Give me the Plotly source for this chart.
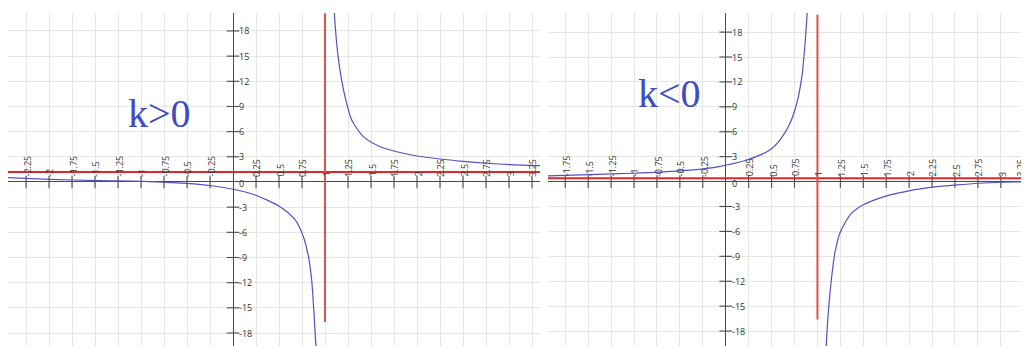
import plotly.graph_objects as go

# ---------------- data ----------------
# left panel (k>0)
left_neg_x = [-2.46, -1.99, -1.45, -0.975, -0.51, -0.21, 0.0, 0.24, 0.51, 0.674, 0.764, 0.82, 0.855, 0.88, 0.905]
left_neg_y = [0.52, 0.32, 0.16, 0.08, -0.16, -0.48, -0.87, -1.55, -2.94, -4.5, -6.5, -8.9, -11.7, -15.6, -20.3]
left_pos_x = [1.095, 1.127, 1.163, 1.217, 1.29, 1.417, 1.60, 1.78, 2.0, 2.25, 2.50, 2.76, 3.01, 3.35]
left_pos_y = [21.0, 16.5, 13.3, 10.2, 7.4, 5.4, 4.2, 3.6, 3.1, 2.74, 2.46, 2.23, 2.07, 1.95]
left_h_asym = 1.2
left_v_asym = 1.0
left_v_span = [20.1, -16.7]

# right panel (k<0)
right_neg_x = [-1.95, -1.48, -1.01, -0.50, -0.135, 0.0, 0.23, 0.48, 0.59, 0.70, 0.774, 0.83, 0.865, 0.892]
right_neg_y = [0.68, 0.84, 1.0, 1.29, 1.69, 1.97, 2.6, 3.8, 5.0, 7.0, 9.4, 12.6, 16.6, 21.0]
right_pos_x = [1.092, 1.12, 1.156, 1.19, 1.246, 1.356, 1.50, 1.756, 2.01, 2.26, 2.52, 2.77, 3.03, 3.32]
right_pos_y = [-20.5, -15.5, -11.4, -8.6, -6.2, -4.0, -2.8, -1.72, -1.08, -0.67, -0.40, -0.2, -0.08, 0.0]
right_h_asym = 0.4
right_v_asym = 1.0
right_v_span = [20.1, -16.6]

# tick labels
left_xticks = [-2.25, -2, -1.75, -1.5, -1.25, -1, -0.75, -0.5, -0.25,
               0.25, 0.5, 0.75, 1, 1.25, 1.5, 1.75, 2, 2.25, 2.5, 2.75, 3, 3.25]
right_xticks = [-1.75, -1.5, -1.25, -1, -0.75, -0.5, -0.25,
                0.25, 0.5, 0.75, 1, 1.25, 1.5, 1.75, 2, 2.25, 2.5, 2.75, 3, 3.25]
yticks = [18, 15, 12, 9, 6, 3, 0, -3, -6, -9, -12, -15, -18]

titles = ["k>0", "k<0"]
title_pos = [(-0.80, 8.2), (-0.61, 10.6)]

# ---------------- styling ----------------
# the page body has an 8px margin, so the figure is sized to the visible area
W, H = 1021, 338
CURVE = "#5252c6"
RED = "#e02828"
GRID = "#e6e6e6"
AXIS = "#4a4a4a"
LABEL = "#333333"

left_xrange = [-2.446, 3.337]
right_xrange = [-1.938, 3.307]
left_yrange = [-19.55, 20.14]
right_yrange = [-19.8, 20.3]
ydom = [0, 333 / H]

fig = go.Figure()


def fmt(v):
    return "%g" % v


panels = [
    dict(xa="x", ya="y", nx=left_neg_x, ny=left_neg_y, px=left_pos_x, py=left_pos_y,
         h=left_h_asym, v=left_v_asym, vs=left_v_span, xr=left_xrange, xt=left_xticks),
    dict(xa="x2", ya="y2", nx=right_neg_x, ny=right_neg_y, px=right_pos_x, py=right_pos_y,
         h=right_h_asym, v=right_v_asym, vs=right_v_span, xr=right_xrange, xt=right_xticks),
]

annotations = []
for i, p in enumerate(panels):
    xa, ya = p["xa"], p["ya"]
    fig.add_trace(go.Scatter(x=p["xt"], y=[0] * len(p["xt"]), mode="markers",
                             marker=dict(symbol="line-ns", size=9, line=dict(width=1.1, color=AXIS)),
                             xaxis=xa, yaxis=ya, hoverinfo="skip", showlegend=False))
    yt = [v for v in yticks if v != 0]
    fig.add_trace(go.Scatter(x=[0] * len(yt), y=yt, mode="markers",
                             marker=dict(symbol="line-ew", size=9, line=dict(width=1.1, color=AXIS)),
                             xaxis=xa, yaxis=ya, hoverinfo="skip", showlegend=False))
    fig.add_trace(go.Scatter(x=[p["xr"][0], p["xr"][1]], y=[p["h"], p["h"]], mode="lines",
                             line=dict(color=RED, width=2), xaxis=xa, yaxis=ya,
                             hoverinfo="skip", showlegend=False))
    fig.add_trace(go.Scatter(x=[p["v"], p["v"]], y=p["vs"], mode="lines",
                             line=dict(color="#e45050", width=2), xaxis=xa, yaxis=ya,
                             hoverinfo="skip", showlegend=False))
    fig.add_trace(go.Scatter(x=p["nx"], y=p["ny"], mode="lines",
                             line=dict(color=CURVE, width=1.2, shape="spline", smoothing=0.7),
                             xaxis=xa, yaxis=ya, hoverinfo="skip", showlegend=False))
    fig.add_trace(go.Scatter(x=p["px"], y=p["py"], mode="lines",
                             line=dict(color=CURVE, width=1.2, shape="spline", smoothing=0.7),
                             xaxis=xa, yaxis=ya, hoverinfo="skip", showlegend=False))
    for v in p["xt"]:
        # keep a label that would spill over the figure edge inside it
        edge = (p["xr"][1] - v) < 0.07
        annotations.append(dict(x=v, y=0, xref=xa, yref=ya, text=fmt(v), showarrow=False,
                                textangle=-90, xanchor="right" if edge else "center",
                                yanchor="bottom",
                                xshift=5 if edge else 1, yshift=3,
                                font=dict(family="Open Sans", size=9, color=LABEL)))
    for v in yticks:
        annotations.append(dict(x=0, y=v, xref=xa, yref=ya, text=fmt(v), showarrow=False,
                                xanchor="left", yanchor="middle", xshift=4,
                                yshift=-2 if v == 0 else 0,
                                font=dict(family="Open Sans", size=9, color=LABEL)))
    tx, ty = title_pos[i]
    annotations.append(dict(x=tx, y=ty, xref=xa, yref=ya, text=titles[i], showarrow=False,
                            xanchor="center", yanchor="middle",
                            font=dict(family="Liberation Serif", size=40, color="#3d4bc6")))

axis_common = dict(showgrid=True, gridcolor=GRID, gridwidth=1.3, zeroline=True,
                   zerolinecolor=AXIS, zerolinewidth=1.2, showticklabels=False,
                   ticks="", showline=False, fixedrange=True)

fig.update_layout(
    width=W, height=H,
    margin=dict(l=0, r=0, t=0, b=0),
    paper_bgcolor="white", plot_bgcolor="white",
    showlegend=False,
    xaxis=dict(domain=[0, 532 / W], range=left_xrange, tick0=0, dtick=0.25, anchor="y", **axis_common),
    yaxis=dict(domain=ydom, range=left_yrange, tick0=0, dtick=3, anchor="x", **axis_common),
    xaxis2=dict(domain=[540 / W, 1], range=right_xrange, tick0=0, dtick=0.25, anchor="y2", **axis_common),
    yaxis2=dict(domain=ydom, range=right_yrange, tick0=0, dtick=3, anchor="x2", **axis_common),
    annotations=annotations,
)

fig.write_html("out.html")
